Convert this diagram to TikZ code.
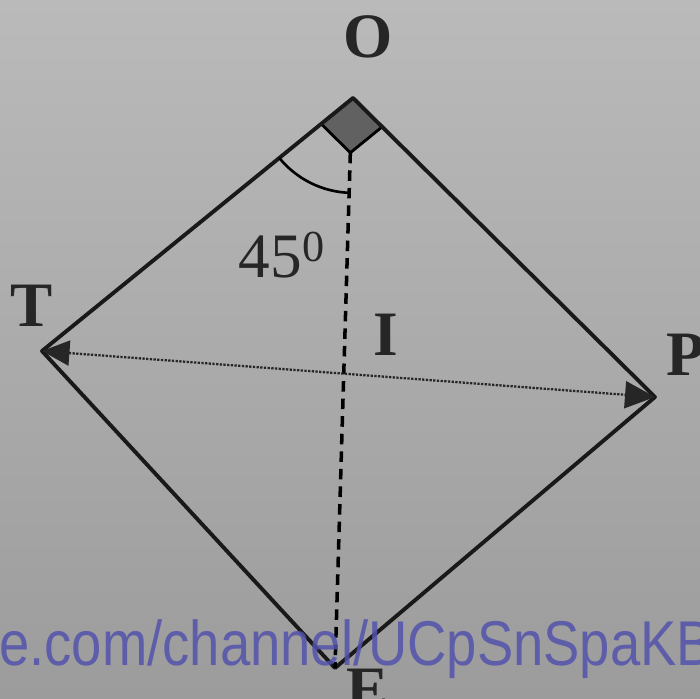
\documentclass[tikz,border=0pt]{standalone}
\usepackage{fontspec}
\setmainfont{Liberation Serif}
\setsansfont{Liberation Sans}
\usetikzlibrary{calc, arrows.meta}
\definecolor{paperTop}{RGB}{186,186,186}
\definecolor{paperBot}{RGB}{156,156,156}
\definecolor{wmblue}{RGB}{82,82,172}

\begin{document}
\begin{tikzpicture}[
    side/.style={line width=2.2pt, black!90, line join=round},
    lbl/.style={font=\bfseries\fontsize{36}{36}\selectfont, text=black!85},
]
            \useasboundingbox (0,0) rectangle (14,13.96);
            \clip (0,0) rectangle (14,13.96);
            \shade[top color=paperTop, bottom color=paperBot] (0,0) rectangle (14,13.96);

            % corners of the square
            \coordinate (O) at (7.06,12.0);
            \coordinate (T) at (0.84,6.94);
            \coordinate (P) at (13.10,6.02);
            \coordinate (E) at (6.70,0.60);

            % right angle at O
            \coordinate (Ot) at ($(O)!0.82cm!(T)$);
            \coordinate (Op) at ($(O)!0.82cm!(P)$);
            \coordinate (Oc) at ($(Ot)+(Op)-(O)$);
            \filldraw[fill=black!62, line width=1.6pt] (O) -- (Ot) -- (Oc) -- (Op) -- cycle;

            % sides
            \draw[side] (O) -- (P) -- (E) -- (T) -- cycle;

            % diagonal OE (dashed)
            \draw[line width=2pt, dash pattern=on 6pt off 4pt] (Oc) -- (E);

            % diagonal TP (dotted, both ends)
            \draw[line width=1.3pt, black!85, dash pattern=on 1.3pt off 0.8pt,
                  {Triangle[length=0.55cm,width=0.5cm]}-{Triangle[length=0.6cm,width=0.54cm]}] (T) -- (P);

            % angle 45 at O
            \draw[line width=1.5pt] ($(O)!1.9cm!(T)$) arc[start angle=219.2, end angle=268.4, radius=1.9cm];
            \node[font=\fontsize{36}{36}\selectfont, text=black!85] (ang) at (5.64,8.86) {45\textsuperscript{0}};

            % letters
            \node[lbl] (lO) at (7.36,13.22) {O};
            \node[lbl] (lT) at (0.64,7.84) {T};
            \node[lbl] (lI) at (7.72,7.26) {I};
            \node[lbl] (lP) at (13.72,6.86) {P};
            \node[lbl] (lE) at (7.36,0.16) {E};

            % watermark
            \node[anchor=base west, inner sep=0, xscale=0.86, opacity=0.85,
                  font=\sffamily\fontsize{36}{36}\selectfont, text=wmblue] (wm) at (-0.02,0.66) {e.com/channel/UCpSnSpaKB};
        \end{tikzpicture}
\end{document}
